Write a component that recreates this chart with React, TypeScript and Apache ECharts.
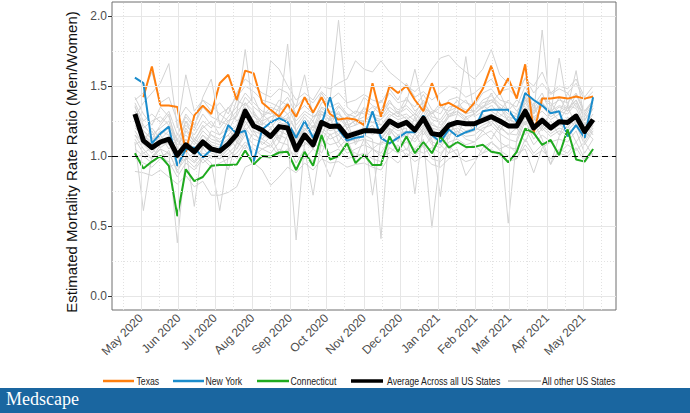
import React, { useEffect, useRef } from "react";
import * as echarts from "echarts";

// ---------- data ----------
const firstWeek = "2020-04-26";
const xTickDates = ["2020-05-01", "2020-06-01", "2020-07-01", "2020-08-01", "2020-09-01", "2020-10-01", "2020-11-01", "2020-12-01", "2021-01-01", "2021-02-01", "2021-03-01", "2021-04-01", "2021-05-01"];
const xTickLabels = ["May 2020", "Jun 2020", "Jul 2020", "Aug 2020", "Sep 2020", "Oct 2020", "Nov 2020", "Dec 2020", "Jan 2021", "Feb 2021", "Mar 2021", "Apr 2021", "May 2021"];
const xMinorDates = ["2020-04-16", "2020-05-16", "2020-06-16", "2020-07-16", "2020-08-16", "2020-09-16", "2020-10-16", "2020-11-16", "2020-12-16", "2021-01-16", "2021-02-15", "2021-03-16", "2021-04-16", "2021-05-16"];
const yTicks = [0, 0.5, 1.0, 1.5, 2.0];
const yMinor = [0.25, 0.75, 1.25, 1.75];

const texas = [null, 1.42, 1.64, 1.36, 1.36, 1.35,
  1.03, 1.29, 1.36, 1.30, 1.52,
  1.58, 1.40, 1.61, 1.59, 1.38,
  1.33, 1.28, 1.37, 1.28, 1.42,
  1.31, 1.42, 1.30, 1.26, 1.27,
  1.26, 1.22, 1.52, 1.28, 1.50,
  1.45, 1.50, 1.40, 1.32, 1.52,
  1.36, 1.38, 1.345, 1.31, 1.38,
  1.48, 1.645, 1.44, 1.555, 1.41,
  1.655, 1.165, 1.41, 1.41, 1.42,
  1.41, 1.425, 1.41, 1.425];

const newYork = [1.56, 1.52, 1.09, 1.16, 1.21,
  0.93, 1.05, 1.06, 0.99, 1.045,
  1.05, 1.22, 1.16, 1.18, 0.96,
  1.19, 1.24, 1.27, 1.24, 1.13,
  1.25, 1.13, 1.23, 1.42, 1.19,
  1.11, 1.13, 1.14, 1.32, 1.13,
  1.09, 1.13, 1.17, 1.17, 1.29,
  1.15, 1.10, 1.19, 1.14, 1.17,
  1.19, 1.32, 1.33, 1.33, 1.33,
  1.245, 1.45, 1.40, 1.36, 1.305,
  1.32, 1.14, 1.22, 1.13, 1.42];

const connecticut = [1.02, 0.91, 0.96, 1.00, 0.93,
  0.57, 0.905, 0.82, 0.85, 0.93,
  0.935, 0.935, 0.94, 1.04, 0.94,
  1.00, 0.995, 1.025, 1.03, 0.90,
  1.03, 0.93, 1.15, 0.975, 1.00,
  1.09, 0.95, 1.01, 0.935, 0.935,
  1.14, 1.03, 1.14, 1.02, 1.10,
  1.02, 1.14, 1.06, 1.10, 1.065,
  1.065, 1.08, 1.03, 1.02, 0.955,
  1.03, 1.195, 1.165, 1.08, 1.115,
  1.005, 1.19, 0.975, 0.96, 1.05];

const average = [1.30, 1.11, 1.06, 1.10, 1.12,
  1.005, 1.08, 1.03, 1.10, 1.05,
  1.035, 1.085, 1.155, 1.32, 1.215,
  1.185, 1.14, 1.21, 1.20, 1.045,
  1.15, 1.08, 1.24, 1.21, 1.215,
  1.14, 1.16, 1.18, 1.18, 1.175,
  1.25, 1.215, 1.24, 1.185, 1.27,
  1.16, 1.15, 1.22, 1.24, 1.23,
  1.23, 1.255, 1.28, 1.25, 1.215,
  1.215, 1.32, 1.20, 1.255, 1.20,
  1.245, 1.24, 1.285, 1.175, 1.26];

const gray01 = [1.42, 1.30, 1.22, 1.35, 1.28, 1.10, 1.25, 1.18, 1.30, 1.22, 1.20, 1.28, 1.35, 1.45, 1.38, 1.32, 1.30, 1.40, 1.36, 1.22, 1.30, 1.25, 1.38, 1.40, 1.97, 1.35, 1.30, 1.42, 1.36, 1.33, 1.45, 1.38, 1.40, 1.35, 1.44, 1.33, 1.30, 1.40, 1.42, 1.38, 1.36, 1.45, 1.48, 1.40, 1.38, 1.35, 1.50, 1.34, 1.42, 1.36, 1.40, 1.38, 1.45, 1.32, 1.40];
const gray02 = [1.35, 1.22, 1.15, 1.20, 1.25, 1.05, 1.20, 1.10, 1.22, 1.15, 1.12, 1.18, 1.30, 1.76, 1.30, 1.25, 1.28, 1.30, 1.80, 1.15, 1.25, 1.18, 1.32, 1.28, 1.30, 1.22, 1.25, 1.28, 1.24, 1.26, 1.32, 1.28, 1.30, 1.25, 1.35, 1.22, 1.20, 1.30, 1.32, 1.28, 1.30, 1.35, 1.40, 1.34, 1.28, 1.26, 1.42, 1.25, 1.36, 1.28, 1.32, 1.30, 1.38, 1.22, 1.34];
const gray03 = [1.28, 1.38, 1.45, 1.52, 1.66, 1.20, 1.58, 1.32, 1.40, 1.36, 1.30, 1.34, 1.42, 1.50, 1.46, 1.40, 1.38, 1.35, 1.42, 1.30, 1.36, 1.30, 1.45, 1.35, 1.38, 1.30, 1.28, 1.34, 1.30, 1.28, 1.38, 1.33, 1.36, 1.30, 1.40, 1.28, 1.26, 1.35, 1.36, 1.33, 1.32, 1.40, 1.43, 1.37, 1.33, 1.30, 1.45, 1.30, 1.38, 1.32, 1.36, 1.34, 1.40, 1.28, 1.38];
const gray04 = [1.20, 1.15, 1.10, 1.18, 1.15, 1.00, 1.12, 1.05, 1.15, 1.10, 1.08, 1.12, 1.20, 1.35, 1.25, 1.22, 1.68, 1.62, 1.50, 1.40, 1.45, 1.40, 1.50, 1.48, 1.52, 1.55, 1.68, 1.62, 1.60, 1.68, 1.60, 1.55, 1.50, 1.46, 1.52, 1.62, 1.70, 1.72, 1.65, 1.60, 1.55, 1.62, 1.76, 1.58, 1.52, 1.48, 1.55, 1.50, 1.60, 1.45, 1.50, 1.48, 1.55, 1.42, 1.50];
const gray05 = [1.25, 1.18, 1.12, 1.15, 1.20, 1.08, 1.15, 1.08, 1.18, 1.12, 1.10, 1.15, 1.22, 1.38, 1.28, 1.24, 1.20, 1.28, 1.26, 1.10, 1.22, 1.15, 1.30, 1.26, 1.28, 1.20, 1.22, 1.25, 1.24, 1.22, 1.30, 1.26, 1.28, 1.22, 1.32, 1.20, 1.18, 1.28, 1.30, 1.71, 1.28, 1.32, 1.36, 1.30, 1.26, 1.24, 1.40, 1.30, 1.90, 1.30, 1.70, 1.35, 1.61, 1.25, 1.36];
const gray06 = [0.89, 0.88, 0.86, 0.90, 0.85, 0.80, 0.86, 0.78, 0.82, 0.72, 0.72, 0.74, 0.78, 0.92, 0.95, 0.90, 0.79, 0.85, 0.92, 0.88, 0.95, 0.90, 0.98, 0.95, 0.96, 0.92, 0.94, 0.95, 0.92, 0.90, 1.00, 0.95, 1.02, 0.96, 1.00, 0.94, 0.92, 0.98, 1.00, 0.96, 0.98, 1.02, 1.05, 1.00, 0.96, 0.98, 1.08, 1.00, 1.04, 0.98, 1.02, 1.00, 1.06, 0.96, 1.02];
const gray07 = [1.10, 0.61, 1.00, 1.05, 1.02, 0.38, 1.00, 0.95, 1.02, 1.00, 0.98, 1.02, 1.08, 1.20, 1.12, 1.10, 1.06, 1.15, 1.12, 0.40, 1.10, 1.05, 1.18, 1.12, 1.15, 1.08, 1.10, 1.12, 1.10, 1.08, 1.18, 1.12, 1.15, 1.10, 1.18, 1.08, 1.06, 1.15, 1.18, 1.14, 1.15, 1.20, 1.22, 1.16, 1.12, 1.10, 1.25, 1.12, 1.20, 1.14, 1.18, 1.15, 1.22, 1.08, 1.18];
const gray08 = [1.15, 1.05, 0.98, 1.08, 1.10, 0.92, 1.05, 0.64, 1.08, 1.02, 1.00, 1.05, 1.12, 1.25, 1.15, 1.12, 1.08, 1.18, 1.15, 1.00, 1.12, 1.06, 1.20, 1.15, 1.18, 1.10, 1.12, 1.15, 1.12, 0.41, 1.20, 1.15, 1.18, 1.12, 1.20, 1.10, 1.08, 1.18, 1.20, 1.16, 1.18, 1.22, 1.25, 1.18, 0.52, 1.12, 1.28, 1.15, 1.22, 1.16, 1.20, 1.18, 1.25, 1.10, 1.20];
const gray09 = [1.05, 1.00, 0.95, 1.00, 1.02, 0.90, 0.98, 0.92, 1.00, 0.95, 0.61, 1.00, 1.05, 1.15, 1.08, 1.05, 1.02, 1.10, 1.08, 0.95, 1.05, 0.72, 1.12, 1.08, 1.10, 1.02, 1.05, 1.08, 1.05, 1.02, 1.12, 1.06, 1.10, 1.05, 1.12, 0.49, 1.00, 1.10, 1.12, 1.08, 1.10, 1.15, 1.18, 1.10, 1.06, 1.05, 1.20, 1.08, 1.15, 1.10, 1.12, 1.10, 1.18, 1.02, 1.12];
const gray10 = [1.18, 1.08, 1.02, 1.10, 1.12, 0.95, 1.08, 1.00, 1.10, 1.05, 1.02, 1.08, 1.15, 1.28, 1.18, 1.15, 1.12, 1.20, 1.18, 1.02, 1.15, 1.08, 1.22, 1.18, 1.20, 1.12, 1.15, 1.18, 0.72, 1.12, 1.22, 1.18, 1.20, 0.73, 1.22, 1.12, 0.71, 1.20, 1.22, 1.18, 1.20, 1.25, 1.28, 1.20, 1.16, 1.15, 1.30, 1.18, 1.25, 1.18, 1.22, 1.20, 1.28, 1.12, 1.22];
const gray11 = [1.32, 1.15, 1.08, 1.12, 1.18, 1.02, 1.12, 1.05, 1.15, 1.08, 1.06, 1.12, 1.18, 1.30, 1.22, 1.20, 1.15, 1.24, 1.22, 1.08, 1.20, 1.12, 1.26, 1.22, 1.24, 1.16, 1.18, 1.20, 1.18, 1.16, 1.26, 1.22, 1.24, 1.18, 1.28, 1.16, 1.14, 1.22, 1.25, 1.22, 1.24, 1.28, 1.30, 1.24, 1.20, 1.20, 1.34, 1.22, 1.28, 1.22, 1.26, 1.24, 1.30, 1.18, 1.26];
const gray12 = [1.38, 1.25, 1.30, 1.24, 1.32, 1.15, 1.30, 1.22, 1.35, 1.28, 1.25, 1.22, 1.40, 1.36, 1.42, 1.28, 1.35, 1.32, 1.38, 1.25, 1.32, 1.28, 1.34, 1.30, 1.36, 1.28, 1.32, 1.30, 1.35, 1.30, 1.40, 1.30, 1.42, 1.32, 1.38, 1.30, 1.35, 1.32, 1.40, 1.30, 1.38, 1.34, 1.45, 1.32, 1.40, 1.32, 1.40, 1.36, 1.45, 1.30, 1.42, 1.32, 1.44, 1.30, 1.40];
const gray13 = [1.00, 0.95, 0.92, 0.98, 0.96, 0.85, 0.95, 0.90, 0.98, 0.92, 0.95, 0.98, 1.02, 1.10, 1.05, 1.00, 0.98, 1.05, 1.02, 0.90, 1.02, 0.96, 1.08, 1.02, 1.05, 0.98, 1.00, 1.02, 0.98, 0.96, 1.06, 1.02, 1.05, 1.00, 1.08, 0.98, 0.96, 1.02, 1.05, 0.86, 0.95, 1.06, 1.10, 1.04, 1.00, 0.98, 1.12, 1.02, 1.08, 0.94, 1.05, 1.02, 1.10, 0.98, 1.05];
const gray14 = [1.22, 1.12, 1.18, 1.06, 1.10, 0.98, 1.18, 1.10, 1.05, 1.18, 1.15, 1.20, 1.10, 1.22, 1.30, 1.18, 1.25, 1.12, 1.28, 1.18, 1.12, 1.22, 1.15, 1.28, 1.10, 1.20, 1.10, 1.22, 1.15, 1.20, 1.15, 1.25, 1.12, 1.28, 1.15, 1.24, 1.18, 1.12, 1.30, 1.25, 1.18, 1.30, 1.22, 1.35, 1.25, 1.30, 1.22, 1.38, 1.20, 1.32, 1.25, 1.35, 1.22, 1.30, 1.24];
const gray15 = [1.12, 1.02, 1.06, 0.98, 1.04, 0.88, 1.04, 0.96, 1.06, 0.98, 1.04, 0.90, 1.10, 1.05, 1.18, 1.08, 1.14, 1.02, 1.15, 1.05, 1.08, 1.12, 1.02, 1.16, 1.06, 1.12, 0.98, 1.12, 1.05, 1.10, 1.08, 1.15, 1.04, 1.16, 1.06, 1.14, 1.08, 1.02, 1.18, 1.12, 1.10, 1.18, 1.12, 1.22, 1.15, 1.20, 1.10, 1.24, 1.12, 0.94, 1.14, 1.22, 1.10, 1.18, 1.12];
const gray16 = [1.40, 1.45, 1.60, 1.38, 1.42, 1.25, 1.35, 1.28, 1.40, 1.32, 1.38, 1.30, 1.45, 1.55, 1.50, 1.45, 1.42, 1.48, 1.45, 1.35, 1.42, 1.38, 1.46, 1.40, 1.45, 1.38, 1.40, 1.44, 1.40, 1.38, 1.48, 1.40, 1.52, 1.42, 1.46, 1.40, 1.45, 1.50, 1.48, 1.42, 1.45, 1.50, 1.55, 1.46, 1.48, 1.42, 1.56, 1.45, 1.52, 1.44, 1.48, 1.45, 1.52, 1.40, 1.46];
const gray17 = [1.36, 1.20, 1.25, 1.28, 1.22, 1.12, 1.22, 1.15, 1.25, 1.20, 1.30, 1.25, 1.28, 1.42, 1.35, 1.30, 1.24, 1.35, 1.30, 1.18, 1.28, 1.20, 1.35, 1.32, 1.30, 1.25, 1.28, 1.32, 1.28, 1.26, 1.35, 1.30, 1.34, 1.28, 1.36, 1.26, 1.24, 1.32, 1.35, 1.30, 1.32, 1.38, 1.40, 1.35, 1.30, 1.28, 1.42, 1.32, 1.38, 1.30, 1.35, 1.32, 1.40, 1.26, 1.34];
const gray18 = [1.08, 1.12, 1.05, 1.15, 1.05, 1.12, 1.02, 1.12, 1.08, 1.15, 1.10, 1.15, 1.05, 1.18, 1.25, 1.12, 1.20, 1.10, 1.25, 1.12, 1.18, 1.25, 1.10, 1.22, 1.15, 1.25, 1.08, 1.18, 1.22, 1.12, 1.20, 1.10, 1.25, 1.15, 1.22, 1.20, 1.12, 1.25, 1.15, 1.28, 1.20, 1.18, 1.25, 1.18, 1.28, 1.22, 1.15, 1.28, 1.18, 1.25, 1.15, 1.28, 1.20, 1.24, 1.15];
const gray19 = [1.15, 1.10, 1.20, 1.12, 1.08, 1.15, 1.28, 1.20, 1.42, 1.55, 1.22, 1.35, 1.25, 1.30, 1.20, 1.28, 1.32, 1.25, 1.30, 1.35, 1.58, 1.28, 1.32, 1.25, 1.35, 1.30, 1.22, 1.35, 1.30, 1.40, 1.32, 1.28, 1.38, 1.62, 1.35, 1.30, 1.38, 1.28, 1.35, 1.40, 1.30, 1.35, 1.38, 1.45, 1.32, 1.40, 1.35, 1.30, 1.42, 1.38, 1.30, 1.45, 1.35, 1.32, 1.38];
const gray20 = [0.98, 1.02, 0.98, 1.05, 0.92, 0.95, 0.98, 1.02, 0.95, 1.00, 0.98, 1.05, 0.98, 1.08, 1.00, 1.05, 1.08, 1.00, 1.05, 1.00, 0.98, 1.05, 1.00, 0.85, 1.02, 1.05, 1.02, 0.98, 1.05, 1.00, 1.02, 1.08, 1.00, 1.05, 1.02, 1.06, 1.02, 1.08, 1.00, 1.05, 1.08, 1.02, 1.10, 1.05, 1.08, 1.02, 1.05, 0.88, 1.06, 1.10, 1.02, 1.08, 1.04, 1.10, 1.00];
const gray21 = [1.26, 1.18, 1.12, 1.22, 1.30, 1.05, 1.25, 1.12, 1.20, 1.25, 1.15, 1.25, 1.32, 1.38, 1.32, 1.22, 1.28, 1.30, 1.24, 1.15, 1.18, 1.28, 1.30, 1.22, 1.32, 1.20, 1.26, 1.25, 1.30, 1.22, 1.28, 1.32, 1.26, 1.30, 1.25, 1.32, 1.22, 1.28, 1.32, 1.26, 1.30, 1.36, 1.32, 1.28, 1.34, 1.25, 1.38, 1.28, 1.32, 1.26, 1.30, 1.36, 1.34, 1.22, 1.30];
const otherStates = [gray01, gray02, gray03, gray04, gray05, gray06, gray07, gray08, gray09, gray10, gray11, gray12, gray13, gray14, gray15, gray16, gray17, gray18, gray19, gray20, gray21];

const seriesNames = ["Texas", "New York", "Connecticut", "Average Across all US States", "All other US States"];

// ---------- helpers ----------
const DAY = 86400000;
const t0 = Date.parse(firstWeek);
const weeks = average.map((_, i) => t0 + i * 7 * DAY);
const toPairs = (arr: (number | null)[]) =>
  arr.map((v, i) => [weeks[i], v] as [number, number | null]).filter((p) => p[1] !== null);
const tickVals = xTickDates.map((d) => Date.parse(d));
const span = weeks[weeks.length - 1] - weeks[0];
const xMin = weeks[0] - span * 0.05;
const xMax = weeks[weeks.length - 1] + span * 0.05;

const SANS = "'Liberation Sans', Arial, Helvetica, sans-serif";

const COLORS = {
  texas: "#ff7f0e",
  ny: "#1a8ccc",
  ct: "#1faa1f",
  avg: "#000000",
  gray: "#d3d3d3",
};

// legend layout (pixel positions of each key)
const legendKeys = [
  { name: seriesNames[0], color: COLORS.texas, width: 2.5, x1: 103, x2: 134, tx: 136.5 },
  { name: seriesNames[1], color: COLORS.ny, width: 2.5, x1: 173, x2: 204, tx: 205.5 },
  { name: seriesNames[2], color: COLORS.ct, width: 2.5, x1: 257, x2: 289, tx: 290.5 },
  { name: seriesNames[3], color: COLORS.avg, width: 3.5, x1: 351, x2: 383, tx: 387 },
  { name: seriesNames[4], color: "#c4c4c4", width: 2, x1: 508, x2: 541, tx: 542 },
];
const LEGEND_Y = 381;

export default function App() {
  const ref = useRef<HTMLDivElement>(null);
  useEffect(() => {
    if (!ref.current) return;
    const chart = echarts.init(ref.current, null, { renderer: "svg" });

    const gridLines: any[] = [];
    tickVals.forEach((t) => gridLines.push({ xAxis: t, lineStyle: { color: "#e6e6e6", width: 1, type: "solid" } }));
    xMinorDates.forEach((d) => gridLines.push({ xAxis: Date.parse(d), lineStyle: { color: "#e2e2e2", width: 1, type: [1, 2] } }));
    yTicks.forEach((v) => gridLines.push({ yAxis: v, lineStyle: { color: "#e6e6e6", width: 1, type: "solid" } }));
    yMinor.forEach((v) => gridLines.push({ yAxis: v, lineStyle: { color: "#e2e2e2", width: 1, type: [1, 2] } }));

    const grayColor = COLORS.gray;
    const series: any[] = [
      {
        type: "line",
        name: "_grid",
        data: [],
        silent: true,
        z: 1,
        markLine: { silent: true, symbol: ["none", "none"], label: { show: false }, data: gridLines, animation: false },
      },
      ...otherStates.map((arr) => ({
        type: "line",
        name: seriesNames[4],
        data: toPairs(arr),
        showSymbol: false,
        symbol: "none",
        silent: true,
        z: 2,
        itemStyle: { color: grayColor },
        lineStyle: { color: grayColor, width: 1 },
      })),
      {
        type: "line",
        name: "_ref",
        data: [],
        silent: true,
        z: 3,
        markLine: {
          silent: true,
          symbol: ["none", "none"],
          label: { show: false },
          data: [{ yAxis: 1 }],
          lineStyle: { color: "#000", width: 1.2, type: [6, 4] },
          animation: false,
        },
      },
      {
        type: "line", name: seriesNames[0], data: toPairs(texas), showSymbol: false, symbol: "none", silent: true, z: 4,
        itemStyle: { color: COLORS.texas }, lineStyle: { color: COLORS.texas, width: 2 },
      },
      {
        type: "line", name: seriesNames[1], data: toPairs(newYork), showSymbol: false, symbol: "none", silent: true, z: 4,
        itemStyle: { color: COLORS.ny }, lineStyle: { color: COLORS.ny, width: 2 },
      },
      {
        type: "line", name: seriesNames[2], data: toPairs(connecticut), showSymbol: false, symbol: "none", silent: true, z: 4,
        itemStyle: { color: COLORS.ct }, lineStyle: { color: COLORS.ct, width: 2 },
      },
      {
        type: "line", name: seriesNames[3], data: toPairs(average), showSymbol: false, symbol: "none", silent: true, z: 5,
        itemStyle: { color: COLORS.avg }, lineStyle: { color: COLORS.avg, width: 5, join: "round" },
      },
    ];

    const legendGraphics: any[] = [];
    legendKeys.forEach((k) => {
      legendGraphics.push({
        type: "line",
        silent: true,
        shape: { x1: k.x1, y1: LEGEND_Y, x2: k.x2, y2: LEGEND_Y },
        style: { stroke: k.color, lineWidth: k.width },
      });
      legendGraphics.push({
        type: "text",
        silent: true,
        x: k.tx,
        y: LEGEND_Y,
        scaleX: 0.79,
        style: {
          text: k.name,
          fill: "#222",
          font: "11px 'Liberation Sans', Arial, sans-serif",
          verticalAlign: "middle",
          align: "left",
        },
      });
    });

    chart.setOption({
      animation: false,
      backgroundColor: "#ffffff",
      grid: { left: 112, right: 74, top: 2, bottom: 103, show: true, borderColor: "#6e6e6e", borderWidth: 1, backgroundColor: "transparent" },
      xAxis: {
        type: "value",
        min: xMin,
        max: xMax,
        scale: true,
        splitLine: { show: false },
        minorSplitLine: { show: false },
        axisLine: { show: false },
        axisTick: { show: true, length: 4, lineStyle: { color: "#333" }, customValues: tickVals },
        axisLabel: {
          customValues: tickVals,
          rotate: 45,
          margin: 6,
          color: "#4d4d4d",
          fontSize: 12,
          fontFamily: SANS,
          hideOverlap: false,
          showMinLabel: true,
          showMaxLabel: true,
          formatter: (v: number) => {
            const i = tickVals.indexOf(v);
            return i >= 0 ? xTickLabels[i] : "";
          },
        },
      },
      yAxis: {
        type: "value",
        min: -0.1,
        max: 2.1,
        splitLine: { show: false },
        axisLine: { show: false },
        axisTick: { show: true, length: 4, lineStyle: { color: "#333" }, customValues: yTicks },
        axisLabel: {
          customValues: yTicks,
          color: "#4d4d4d",
          fontSize: 12,
          fontFamily: SANS,
          margin: 5,
          formatter: (v: number) => v.toFixed(1),
        },
        name: "Estimated Mortality Rate Ratio (Men/Women)",
        nameLocation: "middle",
        nameGap: 21,
        nameTextStyle: { fontSize: 15, color: "#111", fontFamily: SANS, padding: [0, 12, 0, 0] },
      },
      graphic: [
        { type: "rect", silent: true, shape: { x: 0, y: 388, width: 690, height: 25 }, style: { fill: "#1a66a0" } },
        {
          type: "text",
          silent: true,
          left: 6,
          top: 390,
          style: { text: "Medscape", fill: "#ffffff", font: "18px 'Liberation Serif', 'DejaVu Serif', serif" },
        },
        ...legendGraphics,
      ],
      series,
    });
    return () => chart.dispose();
  }, []);
  return (
    <div
      ref={ref}
      style={{ position: "fixed", left: 0, top: 0, width: 690, height: 413, background: "#fff" }}
    />
  );
}
